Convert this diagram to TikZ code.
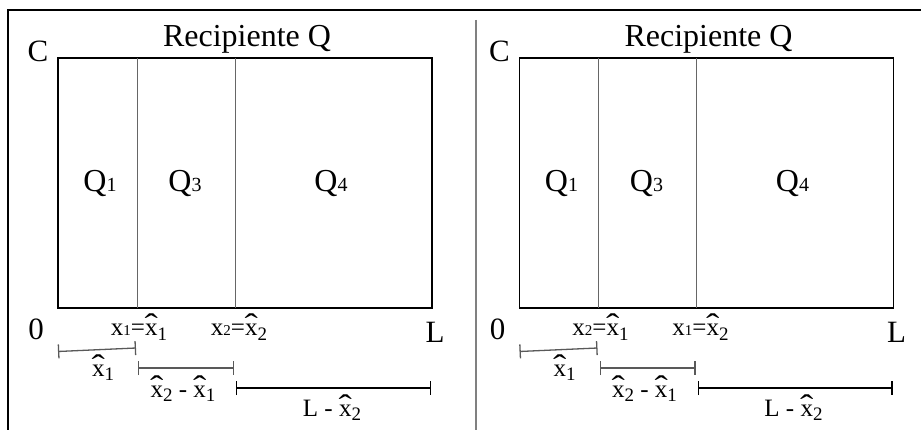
\documentclass[tikz,border=0pt]{standalone}
\usepackage{fontspec}
\setmainfont{Liberation Serif}
\usetikzlibrary{arrows.meta}

\newcommand\titfont{\fontsize{32}{35}\selectfont}
\newcommand\qfont{\fontsize{32}{35}\selectfont}
\newcommand\ejefont{\fontsize{31}{34}\selectfont}
\newcommand\midfont{\fontsize{25}{28}\selectfont}
\newcommand\sq[1]{{\fontsize{20}{20}\selectfont #1}}
\newcommand\sx[1]{{\fontsize{15}{15}\selectfont #1}}
% x con sombrero grande y subindice bajado
\newcommand\xh[1]{\ooalign{\hidewidth\scalebox{1.6}[1.25]{\symbol{"02C6}}\hidewidth\cr x\cr}\raisebox{-0.17em}{\fontsize{19}{19}\selectfont #1}}

\tikzset{
  tittxt/.style={inner sep=0pt, anchor=base, font=\titfont},
  qtxt/.style={inner sep=0pt, anchor=base, font=\qfont},
  ejetxt/.style={inner sep=0pt, anchor=base, font=\ejefont},
  midtxt/.style={inner sep=0pt, anchor=base, font=\midfont},
  interval/.style={line width=1.3pt, {Bar[width=14pt]}-{Bar[width=14pt]}},
}

\begin{document}
\begin{tikzpicture}[x=1pt, y=-1pt, line cap=butt, line join=miter]

  %% ==== marco ====
  \draw[line width=1.2pt] (8,430) -- (8,10) -- (921,10);
  \draw[line width=1.2pt, gray] (476,20) -- (476,430);

  %% ==== los dos recipientes ====
  \foreach \ox/\la/\lb [count=\i] in {0/1/2, 461.5/2/1} {
    \begin{scope}[xshift=\ox pt]
      % caja y divisiones
      \draw[line width=1.6pt] (58,58) rectangle (432,308);
      \draw[line width=1pt, gray!80!black] (137,58) -- (137,308);
      \draw[line width=1pt, gray!80!black] (235,58) -- (235,308);

      % textos
      \node[tittxt] (tit\i) at (247,47) {Recipiente Q};
      \node[ejetxt] (c\i) at (38,62) {C};
      \node[qtxt] (q1\i) at (100,192) {Q\sq{1}};
      \node[qtxt] (q3\i) at (185,192) {Q\sq{3}};
      \node[qtxt] (q4\i) at (331,192) {Q\sq{4}};
      \node[ejetxt] (cero\i) at (36,339) {0};
      \node[ejetxt] (ele\i) at (435,342) {L};
      \node[midtxt] (xa\i) at (139,336) {x\sx{\la}=\xh{1}};
      \node[midtxt] (xb\i) at (239,336) {x\sx{\lb}=\xh{2}};

      % intervalos
      \coordinate (p0\i) at (58,351.5);
      \coordinate (p1\i) at (136,348);
      \coordinate (p2\i) at (138,368);
      \coordinate (p3\i) at (234,368);
      \coordinate (p4\i) at (236,388);
      \coordinate (p5\i) at (431,388);
      \draw[interval, gray!70!black] (p0\i) -- (p1\i);
      \draw[interval, gray!70!black] (p2\i) -- (p3\i);
      \draw[interval] (p4\i) -- (p5\i);
      \node[midtxt] (ia\i) at (103,376) {\xh{1}};
      \node[midtxt] (ib\i) at (183,397) {\xh{2} - \xh{1}};
      \node[midtxt] (ic\i) at (332,416) {L - \xh{2}};
    \end{scope}
  }

  % lienzo fijo
  \pgfresetboundingbox
  \path[use as bounding box] (0,0) rectangle (921,430);
\end{tikzpicture}
\end{document}
